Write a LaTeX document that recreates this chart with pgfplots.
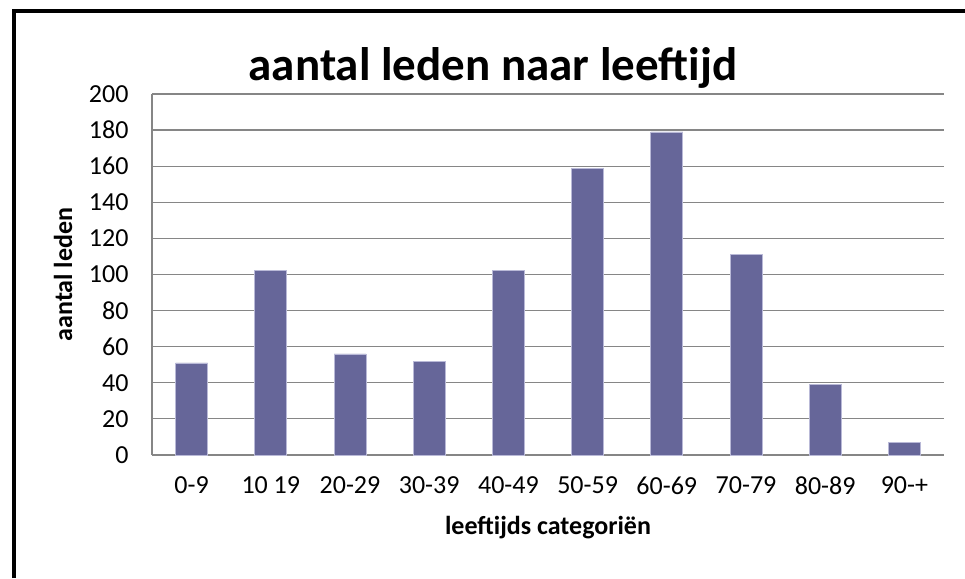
\documentclass[border=0pt]{standalone}
\usepackage{fontspec}
\setmainfont{Carlito}
\usepackage{pgfplots}
\pgfplotsset{compat=1.18}
\definecolor{barfill}{RGB}{102,102,153}
\definecolor{baredge}{RGB}{185,185,215}
\definecolor{gridc}{RGB}{134,134,134}
\begin{document}
\begin{tikzpicture}
\useasboundingbox (0,0) rectangle (965pt,578pt);
\draw[line width=4pt,black] (14pt,0) -- (14pt,567pt) -- (965pt,567pt);
\node[font=\fontsize{47}{56}\selectfont\bfseries] at (493pt,510pt) {aantal leden naar leeftijd};
\begin{axis}[
  at={(152pt,123pt)}, anchor=south west,
  scale only axis, width=792pt, height=361pt,
  xmin=-0.5, xmax=9.5, ymin=0, ymax=200,
  ytick={0,20,...,200},
  xtick={0,...,9},
  xticklabels={0-9,10 19,20-29,30-39,40-49,50-59,60-69,70-79,80-89,90-+},
  /pgf/number format/assume math mode=true,
  ticklabel style={font=\fontsize{26}{31}\selectfont},
  yticklabel style={xshift=-20pt},
  xticklabel style={yshift=-18pt},
  major tick length=0pt,
  ymajorgrids, grid style={gridc, line width=1.2pt},
  axis line style={gridc, line width=1.2pt},
  axis x line*=bottom, axis y line*=left,
  xlabel={\bfseries leeftijds categoriën},
  ylabel={\bfseries aantal leden},
  label style={font=\fontsize{26}{31}\selectfont},
  xlabel style={at={(axis description cs:0.5,-0.2)}, anchor=center},
  ylabel style={at={(axis description cs:-0.1124,0.5)}, anchor=center, rotate=0},
  ybar, bar width=32pt,
]
\addplot[fill=barfill, draw=baredge, line width=0.8pt] coordinates {
(0,51) (1,102) (2,56) (3,52) (4,102) (5,159) (6,179) (7,111) (8,39) (9,7)};
\end{axis}
\end{tikzpicture}
\end{document}
